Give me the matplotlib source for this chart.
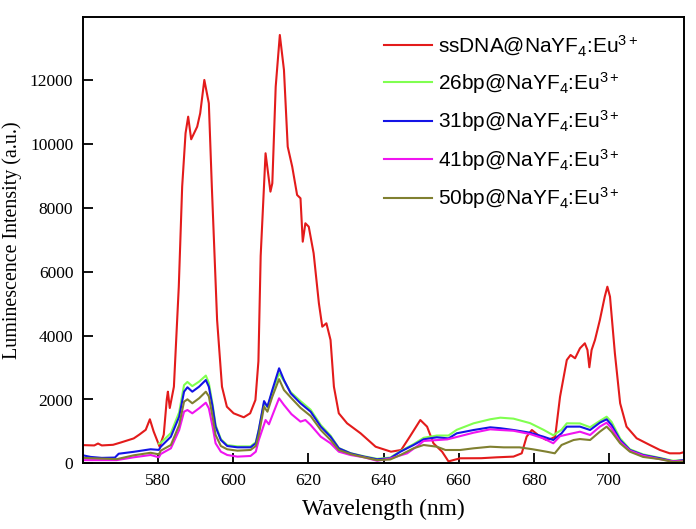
import matplotlib
matplotlib.use("Agg")
import matplotlib.pyplot as plt

red_wl = [560, 563, 564, 565, 568, 570, 573.5, 575, 576.7, 577.8, 578.8, 580.4, 581.5, 582.3, 582.6, 583.1, 584.2, 585.5, 586.4, 587.3, 588.0, 588.8, 590.4, 591.2, 592.3, 593.5, 594.3, 595.7, 597.0, 598.3, 600.1, 602.8, 604.5, 605.9, 606.7, 607.3, 608.6, 609.9, 610.4, 611.3, 612.4, 613.5, 614.5, 615.7, 617.0, 617.9, 618.5, 619.2, 620.1, 621.4, 622.8, 623.7, 624.8, 625.9, 626.8, 628.1, 630.3, 633.9, 637.9, 639.2, 642.0, 644.7, 647.0, 649.8, 651.6, 653.3, 655.6, 657.3, 660.4, 666, 670.2, 674.6, 676.8, 678.1, 679.5, 681.7, 683.4, 684.8, 685.7, 687.0, 688.8, 689.8, 691.0, 692.3, 693.6, 694.3, 694.8, 695.4, 696.3, 697.6, 698.9, 699.6, 700.3, 701.6, 703.0, 704.7, 707.4, 710.9, 713.6, 716.2, 718.9, 720]
red_I = [570, 560, 620, 560, 580, 650, 780, 900, 1050, 1380, 1000, 520, 900, 2000, 2245, 1734, 2400, 5536, 8672, 10346, 10866, 10157, 10552, 10973, 12017, 11286, 8672, 4492, 2401, 1774, 1567, 1442, 1567, 1984, 3200, 6500, 9719, 8515, 8778, 11806, 13427, 12330, 9925, 9298, 8411, 8308, 6947, 7524, 7417, 6584, 5016, 4282, 4389, 3866, 2401, 1567, 1254, 940, 520, 470, 364, 417, 834, 1357, 1149, 627, 364, 60, 157, 160, 188, 210, 313, 834, 1044, 834, 730, 780, 834, 2088, 3239, 3395, 3292, 3605, 3762, 3552, 3010, 3552, 3866, 4492, 5223, 5536, 5223, 3448, 1881, 1149, 784, 574, 417, 313, 313, 350]

green_wl = [580.2, 580.7, 583.4, 585.6, 586.9, 587.8, 589.1, 590.9, 592.7, 593.5, 594.5, 595.3, 596.7, 598.4, 601.1, 604.6, 606.0, 606.8, 608.2, 609.1, 610.4, 612.2, 613.5, 615.3, 617.9, 620.6, 623.3, 625.9, 628.1, 631.2, 634.8, 638.3, 641.8, 644.5, 648.0, 650.7, 654.2, 657.3, 659.5, 664.0, 668.4, 671.1, 674.6, 679.0, 682.6, 685.2, 687.4, 688.8, 692.3, 695.0, 697.6, 699.4, 700.7, 703.0, 705.6, 709.1, 713.6, 717.1, 720]
green_I = [620, 640, 950, 1600, 2450, 2550, 2420, 2560, 2750, 2520, 1850, 1200, 760, 570, 530, 530, 660, 1060, 1900, 1760, 2250, 2820, 2580, 2230, 1950, 1680, 1200, 870, 480, 320, 220, 140, 180, 380, 600, 800, 870, 870, 1050, 1254, 1380, 1430, 1400, 1260, 1050, 880, 1050, 1254, 1250, 1130, 1330, 1460, 1300, 780, 440, 280, 170, 80, 100]

blue_wl = [560, 562, 565, 568.5, 569.5, 573.5, 578.0, 580.2, 580.7, 583.4, 585.6, 586.9, 587.8, 589.1, 590.9, 592.7, 593.5, 594.5, 595.3, 596.7, 598.4, 601.1, 604.6, 606.0, 606.8, 608.2, 609.1, 610.4, 612.2, 613.5, 615.3, 617.9, 620.6, 623.3, 625.9, 628.1, 631.2, 634.8, 638.3, 641.8, 644.5, 648.0, 650.7, 654.2, 657.3, 659.5, 664.0, 668.4, 671.1, 674.6, 679.0, 682.6, 685.2, 687.4, 688.8, 692.3, 695.0, 697.6, 699.4, 700.7, 703.0, 705.6, 709.1, 713.6, 717.1, 720]
blue_I = [250, 200, 170, 180, 300, 360, 440, 420, 520, 834, 1461, 2245, 2383, 2245, 2401, 2611, 2401, 1774, 1149, 730, 542, 501, 501, 627, 1044, 1950, 1774, 2298, 2978, 2611, 2194, 1881, 1618, 1149, 834, 470, 313, 209, 125, 160, 364, 574, 752, 815, 780, 940, 1044, 1128, 1100, 1044, 960, 834, 730, 940, 1149, 1150, 1044, 1274, 1380, 1201, 730, 417, 260, 157, 60, 100]

magenta_wl = [560, 569, 573.5, 578.0, 580.2, 580.7, 583.4, 585.6, 586.9, 587.8, 589.1, 590.9, 592.7, 593.5, 594.5, 595.3, 596.7, 598.4, 601.1, 604.6, 606.0, 606.8, 608.6, 609.5, 610.8, 612.2, 613.5, 615.5, 617.9, 619.2, 620.6, 623.3, 625.9, 628.1, 631.2, 634.8, 638.3, 641.8, 646.3, 649.0, 650.7, 657.0, 664.0, 668.4, 671.1, 674.6, 679.0, 682.6, 685.2, 687.0, 688.8, 692.3, 695.0, 697.6, 699.4, 700.7, 703.0, 705.6, 709.1, 713.6, 717.1, 720]
magenta_I = [100, 100, 188, 260, 188, 292, 470, 1044, 1618, 1671, 1567, 1724, 1900, 1724, 1149, 627, 364, 260, 209, 230, 364, 730, 1357, 1222, 1618, 2038, 1828, 1540, 1306, 1357, 1201, 834, 627, 364, 260, 188, 80, 150, 313, 540, 700, 750, 960, 1065, 1044, 1020, 918, 780, 627, 850, 900, 991, 887, 1149, 1274, 1100, 677, 396, 240, 130, 60, 80]

olive_wl = [560, 569, 573.5, 578.0, 580.2, 580.7, 583.4, 585.6, 586.9, 587.8, 589.1, 590.9, 592.7, 593.5, 594.5, 595.3, 596.7, 598.4, 601.1, 604.6, 606.0, 606.8, 608.2, 609.1, 610.4, 612.2, 613.5, 615.5, 617.9, 620.6, 623.3, 625.9, 628.1, 631.2, 634.8, 638.3, 641.8, 644.5, 648.0, 650.7, 654.2, 656.5, 660.4, 664.0, 668.4, 672.0, 676.2, 679.7, 683.4, 685.6, 687.4, 690.6, 692.3, 695.0, 697.6, 699.4, 700.7, 703.0, 705.6, 709.1, 713.6, 717.1, 720]
olive_I = [170, 130, 250, 330, 280, 396, 574, 1201, 1931, 2006, 1881, 2038, 2245, 2100, 1461, 887, 542, 439, 396, 418, 542, 887, 1774, 1618, 2088, 2640, 2298, 2040, 1740, 1483, 1044, 730, 417, 290, 188, 100, 120, 260, 470, 574, 520, 417, 417, 470, 520, 500, 500, 440, 364, 313, 574, 730, 760, 730, 991, 1149, 991, 627, 364, 200, 130, 40, 60]

labels = ["ssDNA@NaYF$_4$:Eu$^{3+}$", "26bp@NaYF$_4$:Eu$^{3+}$", "31bp@NaYF$_4$:Eu$^{3+}$",
          "41bp@NaYF$_4$:Eu$^{3+}$", "50bp@NaYF$_4$:Eu$^{3+}$"]
colors = ["#e31b1b", "#80ff50", "#1414e6", "#f014f0", "#808030"]
x_ticks = [580, 600, 620, 640, 660, 680, 700]
y_ticks = [0, 2000, 4000, 6000, 8000, 10000, 12000]

series = [(red_wl, red_I), (green_wl, green_I), (blue_wl, blue_I),
          (magenta_wl, magenta_I), (olive_wl, olive_I)]

plt.rcParams['mathtext.fontset'] = 'custom'
plt.rcParams['mathtext.rm'] = 'Liberation Sans'
plt.rcParams['mathtext.it'] = 'Liberation Sans'

fig = plt.figure(figsize=(6.96, 5.29), dpi=100)
ax_l, ax_r, ax_t, ax_b = 83, 684, 16.7, 463.3
ax = fig.add_axes([ax_l/696, 1 - ax_b/529, (ax_r-ax_l)/696, (ax_b-ax_t)/529])

for (wl, inten), lab, col in zip(series, labels, colors):
    assert len(wl) == len(inten), lab
    ax.plot(wl, inten, color=col, lw=1.5, label=lab)

ax.set_xlim(560, 720)
ax.set_ylim(0, 14000)
ax.set_xticks(x_ticks)
ax.set_yticks(y_ticks)
ax.tick_params(direction='in', length=7, width=1.3, labelsize=12.5, pad=7)
for lbl in ax.get_xticklabels() + ax.get_yticklabels():
    lbl.set_fontfamily('Liberation Serif')
for s in ax.spines.values():
    s.set_linewidth(1.4)

ax.set_xlabel("Wavelength (nm)", fontfamily='Liberation Serif', fontsize=16.8, labelpad=7)
ax.set_ylabel("Luminescence Intensity (a.u.)", fontfamily='Liberation Serif', fontsize=14.4, labelpad=6)

lx = (384 - ax_l) / (ax_r - ax_l)
ly = 1 - (33 - ax_t) / (ax_b - ax_t)
leg = ax.legend(loc='upper left', frameon=False, prop={'family': 'Liberation Sans', 'size': 15},
                handlelength=2.3, handletextpad=0.3, labelspacing=0.6,
                borderpad=0, borderaxespad=0, bbox_to_anchor=(lx, ly))

fig.savefig("out.png", dpi=100)
